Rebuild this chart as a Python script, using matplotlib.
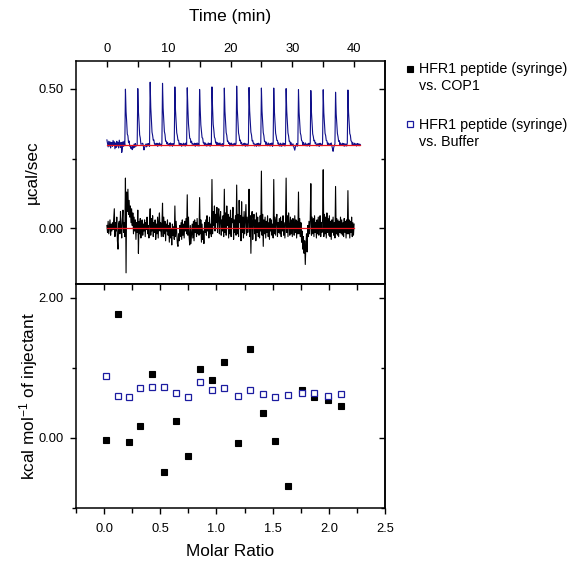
import numpy as np
import matplotlib
matplotlib.use("Agg")
import matplotlib.pyplot as plt
from matplotlib.lines import Line2D
from matplotlib.ticker import FormatStrFormatter

plt.rcParams['font.family'] = ['Liberation Sans', 'DejaVu Sans']
plt.rcParams['mathtext.fontset'] = 'custom'
plt.rcParams['mathtext.rm'] = 'Liberation Sans'
plt.rcParams['mathtext.it'] = 'Liberation Sans:italic'
plt.rcParams['mathtext.bf'] = 'Liberation Sans:bold'

# ---------------- raw ITC thermograms ----------------
sample_step_min = 0.1          # one sample every 6 s
injection_time_min = [3, 5, 7, 9, 11, 13, 15, 17, 19, 21, 23, 25, 27, 29, 31, 33, 35, 37, 39]

# HFR1 peptide into COP1: differential power, in units of 0.001 ucal/sec
cop1_raw = [
    10, -15, 25, -20, 5, 30, -25, 15, -10, 20,
    -5, 35, 70, -30, 20, -10, 40, -45, -75, 15,
    25, -20, 60, 5, -35, 30, 65, -15, 20, -30,
    180, -160, 130, 60, 140, 50, 100, 40, 80, 20,
    70, 10, 55, -20, 40, -10, 30, -40, 20, -15,
    65, -90, 25, -20, 35, -35, 10, 30, -25, 15,
    -10, 30, -30, 20, -5, 40, -20, 10, -35, 25,
    70, -25, 35, -10, 45, -30, 20, -15, 30, -40,
    15, -20, 40, -35, 25, 55, -10, 20, -30, 10,
    90, -30, 40, -20, 25, -45, 15, -10, 30, -25,
    10, -50, 20, -35, -5, -60, 15, -25, 5, -40,
    80, -30, 25, -15, -55, -65, -20, -45, 10, -30,
    20, -40, 30, -25, 15, -35, 25, -10, 35, -20,
    120, -25, 40, -30, -60, 10, -55, -20, 15, -35,
    25, -45, 30, -15, 20, -30, 35, -20, 10, -25,
    110, -20, 30, -50, 15, -40, -10, -55, 20, -15,
    30, -25, 45, -10, 20, -35, 40, -20, 15, -30,
    175, -20, 60, 10, 80, -10, 50, 20, 75, -15,
    40, 70, -20, 35, 60, -25, 30, -10, 45, -30,
    140, -15, 55, -25, 80, 10, 50, -35, 40, -20,
    65, -30, 35, 20, 75, -40, 30, -15, 45, -25,
    155, -20, 50, -30, 100, 20, 45, -45, 95, -15,
    40, -35, 60, -20, 30, 85, -25, 40, -15, 25,
    140, -30, 45, -90, 35, 60, -40, 25, 50, -20,
    30, -45, 55, -15, 40, -30, 20, -35, 45, -10,
    205, -25, 50, -65, 30, -20, 40, -35, 25, -15,
    45, -30, 20, -40, 35, -10, 30, -25, 15, -35,
    175, -20, 40, -25, 30, 50, -30, 20, -15, 35,
    -20, 40, -30, 25, -10, 45, -25, 20, -35, 15,
    180, -15, 45, -30, 55, 10, -25, 40, -20, 30,
    -30, 35, 20, -25, 45, -15, 30, -35, 25, -20,
    130, -20, 35, -30, 20, -50, -10, -75, -30, -90,
    -45, -130, -60, -20, -85, 10, -30, 25, -20, 30,
    160, -25, 40, -20, 35, -30, 45, -15, 20, -35,
    30, -20, 40, -25, 15, 45, -30, 20, -15, 35,
    210, -30, 50, -20, 40, -35, 55, -15, 35, -25,
    45, -30, 25, -40, 30, -15, 40, -25, 20, -35,
    150, -20, 35, -25, 30, -30, 25, -15, 40, -20,
    30, -25, 20, -30, 35, -15, 25, -35, 30, -20,
    135, -20, 30, -35, 25, -15, 40, -30, 20, -25,
    15,
]
cop1_baseline = 0.0

# HFR1 peptide into buffer: baseline offset, top of each injection peak,
# baseline wiggle (0.001 ucal/sec) and the shape of one injection peak
buffer_baseline = 0.30
buffer_peak_top = [0.499, 0.505, 0.521, 0.518, 0.506, 0.505, 0.500, 0.507, 0.501, 0.507,
                   0.504, 0.501, 0.500, 0.500, 0.495, 0.493, 0.494, 0.487, 0.494]
peak_shape = [1.0, 0.62, 0.38, 0.23, 0.14, 0.085, 0.05, 0.03, 0.015, 0.005]
buffer_wiggle = [
    17, 5, -8, 12, -5, 10, -12, 3, 8, -6,
    15, -3, 10, -15, 6, -10, 12, -5, 8, -12,
    16, 4, -10, 8, -28, -15, 10, -6, 12, -4,
    0, -5, 6, -8, 4, -10, 3, -12, -6, -15,
    -8, -18, -5, -12, 2, -10, 4, -6, -3, 0,
    -4, -8, 3, -12, -5, -16, -8, -3, 2, -6,
    -19, -10, -4, 2, -8, 3, -5, 4, -2, -6,
    3, -4, 5, -6, 2, -3, 6, -5, 1, -4,
    -2, 5, -6, 3, -4, 6, -3, 2, -5, 4,
    2, -5, 4, -3, 6, -6, 2, -4, 5, -2,
    -3, 4, -5, 6, -2, 3, -6, 4, -3, 5,
    1, -4, 6, -5, 3, -2, 5, -6, 2, -3,
    4, -6, 2, -3, 5, -4, 3, -5, 6, -2,
    -1, 5, -4, 2, -6, 4, -3, 6, -2, 3,
    2, -3, 5, -6, 4, -2, 6, -4, 3, -5,
    -2, 4, -5, 3, -3, 6, -4, 2, -6, 5,
    3, -5, 2, -4, 6, -3, 4, -6, 5, -2,
    0, 3, -6, 5, -2, 4, -5, 3, -4, 6,
    -3, 5, -2, 6, -4, 2, -5, 4, -6, 3,
    2, -4, 6, -3, 5, -5, 3, -2, 4, -6,
    -1, 6, -4, 2, -5, 3, -3, 5, -2, 4,
    3, -2, 5, -6, 2, -4, 6, -3, 4, -5,
    -2, 4, -3, 5, -6, 3, -4, 2, -5, 6,
    1, -5, 3, -2, 6, -4, 5, -3, 2, -6,
    -3, 2, -6, 4, -2, 5, -5, 3, -4, 6,
    2, -4, 5, -3, 4, -6, 2, -5, 6, -2,
    -4, 6, -2, 3, -5, 4, -3, 6, -6, 2,
    3, -3, 4, -5, 2, -2, 5, -4, 3, -6,
    -2, 5, -6, 2, -4, 6, -3, 4, -5, 3,
    1, -3, 6, -4, 3, -5, 2, -6, 4, -2,
    -4, 3, -5, -12, -20, -8, -3, 4, -6, 2,
    2, -5, 4, -3, 6, -2, 3, -6, 5, -4,
    -3, 6, -4, 2, -5, 3, -2, 5, -6, 4,
    1, -4, 5, -6, 2, -3, 6, -2, 4, -5,
    -2, 3, -5, 4, -6, 5, -3, 2, -4, 6,
    3, -6, 2, -4, 5, -2, 4, -5, 3, -3,
    -2, 4, -3, 6, -5, -14, -24, -10, -4, 3,
    1, -5, 6, -3, 2, -4, 5, -6, 3, -2,
    -3, 5, -2, 4, -6, 3, -4, 2, -5, 6,
    2, -4, 3, -5, 6, -3, 2, -6, 4, -2,
    -1, 5, -3, 2, -5, 4, -2, 3, -4, 2,
    0,
]

# ---------------- integrated heats ----------------
molar_ratio = [0.018, 0.12, 0.22, 0.32, 0.43, 0.53, 0.64, 0.75, 0.85, 0.96,
               1.07, 1.19, 1.30, 1.41, 1.52, 1.64, 1.76, 1.87, 1.99, 2.11]
heat_cop1 = [-0.03, 1.77, -0.06, 0.17, 0.91, -0.48, 0.25, -0.26, 0.99, 0.83,
             1.08, -0.07, 1.27, 0.36, -0.04, -0.69, 0.69, 0.58, 0.54, 0.46]
heat_buffer = [0.88, 0.60, 0.58, 0.72, 0.73, 0.73, 0.64, 0.59, 0.80, 0.69,
               0.72, 0.60, 0.68, 0.63, 0.58, 0.61, 0.65, 0.64, 0.60, 0.63]

series_labels = ['HFR1 peptide (syringe)\nvs. COP1', 'HFR1 peptide (syringe)\nvs. Buffer']

# ---------------- build traces ----------------
cop1_signal = np.array(cop1_raw) / 1000.0 + cop1_baseline
cop1_time = np.arange(len(cop1_signal)) * sample_step_min

buffer_signal = buffer_baseline + np.array(buffer_wiggle) / 1000.0
buffer_time = np.arange(len(buffer_signal)) * sample_step_min
shape = np.array(peak_shape)
for t_inj, top in zip(injection_time_min, buffer_peak_top):
    i = int(round(t_inj / sample_step_min))
    buffer_signal[i:i + len(shape)] += (top - buffer_baseline) * shape

# ---------------- styling ----------------
W, H = 587, 562
NAVY = '#10108a'
BLUE_SQ = '#1c1ca0'
RED = '#e8141c'
LABEL_FS = 12.4
TICK_FS = 9.3

cop1_style = dict(marker='s', ms=5.0, mfc='black', mec='black', mew=0.8, ls='none')
buffer_style = dict(marker='s', ms=4.6, mfc='white', mec=BLUE_SQ, mew=0.9, ls='none')

fig = plt.figure(figsize=(W / 100, H / 100), dpi=100)
left, width = 76 / W, 309 / W
ax_top = fig.add_axes([left, 1 - 284 / H, width, 223 / H])
ax_bot = fig.add_axes([left, 1 - 508 / H, width, 224 / H])

for ax in (ax_top, ax_bot):
    for sp in ax.spines.values():
        sp.set_linewidth(1.1)

# ---- upper panel: raw heat flow ----
ax_top.plot(buffer_time, buffer_signal, color=NAVY, lw=0.8, zorder=2)
ax_top.plot(cop1_time, cop1_signal, color='black', lw=0.8, zorder=2)
ax_top.plot([buffer_time[0], buffer_time[-1]], [buffer_baseline] * 2, color=RED, lw=0.9, zorder=3)
ax_top.plot([cop1_time[0], cop1_time[-1]], [cop1_baseline] * 2, color=RED, lw=0.9, zorder=3)

ax_top.set_xlim(-5, 45)
ax_top.set_ylim(-0.2, 0.6)
ax_top.set_xticks([0, 10, 20, 30, 40])
ax_top.set_xticks([5, 15, 25, 35], minor=True)
ax_top.xaxis.tick_top()
ax_top.tick_params(axis='x', which='both', direction='in', top=True, bottom=False,
                   labeltop=True, labelbottom=False, length=4, width=1.0,
                   labelsize=TICK_FS, pad=4)
ax_top.set_yticks([0.0, 0.5])
ax_top.set_yticks([0.25], minor=True)
ax_top.yaxis.set_major_formatter(FormatStrFormatter('%.2f'))
ax_top.tick_params(axis='y', which='major', direction='out', length=4.5, width=1.0,
                   labelsize=TICK_FS, pad=4.5, right=False)
ax_top.tick_params(axis='y', which='minor', direction='out', length=3, width=1.0, right=False)
sec_tr = ax_top.secondary_yaxis('right')
sec_tr.set_yticks([0.0, 0.5])
sec_tr.set_yticks([0.25], minor=True)
sec_tr.tick_params(which='major', direction='in', length=4.5, width=1.0, labelright=False)
sec_tr.tick_params(which='minor', direction='in', length=3, width=1.0, labelright=False)
sec_tr.spines['right'].set_linewidth(1.1)

ax_top.set_ylabel('µcal/sec', fontsize=LABEL_FS)
ax_top.yaxis.set_label_coords(-36 / 309, 0.5)
fig.text(230.5 / W, 1 - 16 / H, 'Time (min)', ha='center', va='center', fontsize=LABEL_FS)

# ---- lower panel: integrated heats ----
ax_bot.plot(molar_ratio, heat_cop1, zorder=3, **cop1_style)
ax_bot.plot(molar_ratio, heat_buffer, zorder=4, **buffer_style)

ax_bot.set_xlim(-0.25, 2.5)
ax_bot.set_ylim(-1.0, 2.2)
ax_bot.set_xticks([0.0, 0.5, 1.0, 1.5, 2.0, 2.5])
ax_bot.set_xticks([-0.25, 0.25, 0.75, 1.25, 1.75, 2.25], minor=True)
ax_bot.xaxis.set_major_formatter(FormatStrFormatter('%.1f'))
ax_bot.tick_params(axis='x', which='major', direction='out', length=4.5, width=1.0,
                   labelsize=TICK_FS, pad=6, top=False)
ax_bot.tick_params(axis='x', which='minor', direction='out', length=3.5, width=1.0, top=False)
sec_bt = ax_bot.secondary_xaxis('top')
sec_bt.set_xticks([0.0, 0.5, 1.0, 1.5, 2.0])
sec_bt.set_xticks([0.25, 0.75, 1.25, 1.75, 2.25], minor=True)
sec_bt.tick_params(which='both', direction='in', length=4, width=1.0, labeltop=False)
sec_bt.spines['top'].set_linewidth(1.1)

ax_bot.set_yticks([0.0, 2.0])
ax_bot.set_yticks([-1.0, 1.0], minor=True)
ax_bot.yaxis.set_major_formatter(FormatStrFormatter('%.2f'))
ax_bot.tick_params(axis='y', which='major', direction='out', length=4.5, width=1.0,
                   labelsize=TICK_FS, pad=4.5, right=False)
ax_bot.tick_params(axis='y', which='minor', direction='out', length=3, width=1.0, right=False)
sec_br = ax_bot.secondary_yaxis('right')
sec_br.set_yticks([0.0, 2.0])
sec_br.set_yticks([-1.0, 1.0], minor=True)
sec_br.tick_params(which='major', direction='in', length=4.5, width=1.0, labelright=False)
sec_br.tick_params(which='minor', direction='in', length=3, width=1.0, labelright=False)
sec_br.spines['right'].set_linewidth(1.1)

ax_bot.set_ylabel('kcal mol$^{-1}$ of injectant', fontsize=LABEL_FS)
ax_bot.yaxis.set_label_coords(-36 / 309, 0.5)
ax_bot.set_xlabel('Molar Ratio', fontsize=LABEL_FS)
ax_bot.xaxis.set_label_coords(0.5, -36 / 224)

# ---- legend beside the panels ----
entry_rows = [(68.5, cop1_style), (124.0, buffer_style)]
for (y_px, style), label in zip(entry_rows, series_labels):
    fig.add_artist(Line2D([410 / W], [1 - y_px / H], transform=fig.transFigure, **style))
    first, second = label.split('\n')
    fig.text(419.5 / W, 1 - (y_px + 5) / H, first, ha='left', va='baseline', fontsize=10.3)
    fig.text(419.5 / W, 1 - (y_px + 22) / H, second, ha='left', va='baseline', fontsize=10.3)

fig.savefig('out.png', dpi=100)
